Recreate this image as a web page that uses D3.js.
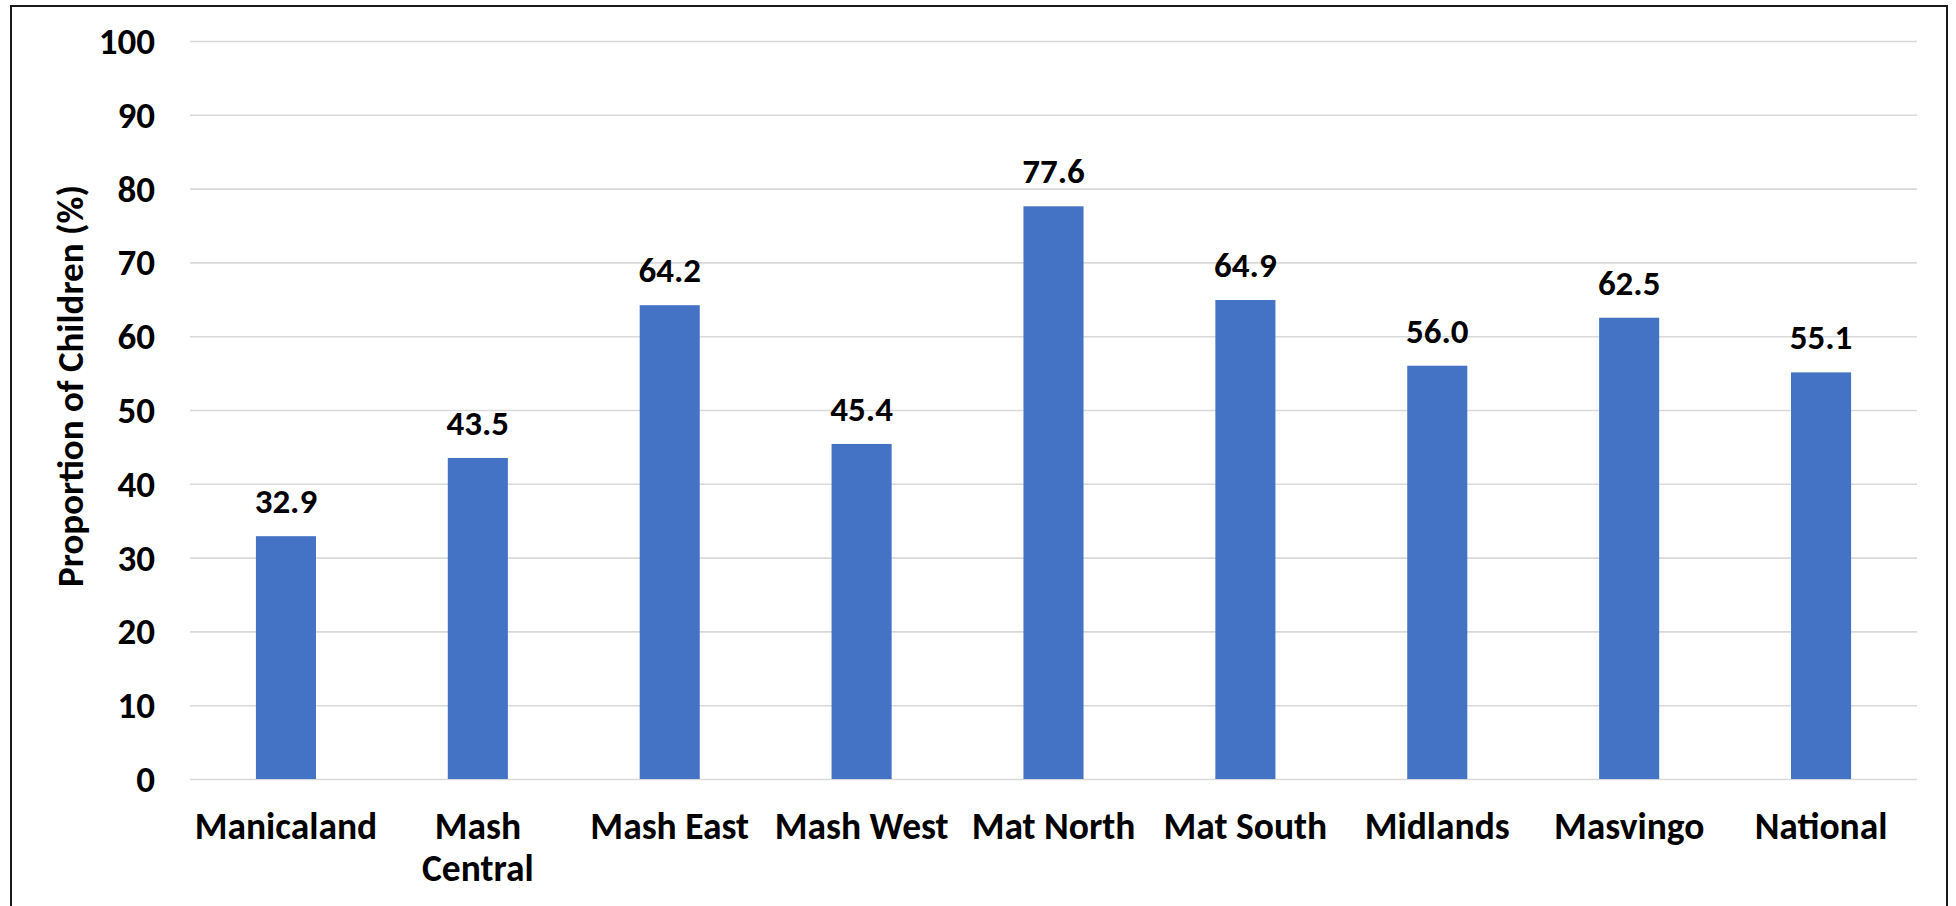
<!DOCTYPE html>
<html>
<head>
<meta charset="utf-8">
<script src="https://cdn.jsdelivr.net/npm/d3@7"></script>
<style>
  body { margin: 0; background: #fff; }
  text { font-family: Calibri, Carlito, Lato, sans-serif; font-weight: bold; fill: #000; }
</style>
</head>
<body>
<script>
// data
const regions = ["Manicaland", "Mash Central", "Mash East", "Mash West", "Mat North",
                 "Mat South", "Midlands", "Masvingo", "National"];
const proportion = [32.9, 43.5, 64.2, 45.4, 77.6, 64.9, 56.0, 62.5, 55.1];
const yTicks = [0, 10, 20, 30, 40, 50, 60, 70, 80, 90, 100];
const yTitle = "Proportion of Children (%)";

const W = 1956, H = 906;
const plot = { left: 190, right: 1917, top: 41, bottom: 779 };

var svg = d3.select("body")
    .append("svg")
    .attr("width", W)
    .attr("height", H);

// outer frame (bottom edge falls off the picture)
svg.append("rect")
    .attr("x", 11).attr("y", 6)
    .attr("width", 1936).attr("height", 940)
    .attr("fill", "none")
    .attr("stroke", "#1a1a1a")
    .attr("stroke-width", 2);

var x = d3.scaleBand()
    .domain(regions)
    .range([plot.left, plot.right])
    .paddingInner(0.687)
    .paddingOuter(0.3435);

var y = d3.scaleLinear()
    .domain([0, 100])
    .range([plot.bottom, plot.top]);

// gridlines + y labels
var yAxis = svg.append("g")
    .attr("transform", "translate(" + plot.left + ",0)")
    .call(d3.axisLeft(y)
        .tickValues(yTicks)
        .tickSize(-(plot.right - plot.left))
        .tickPadding(35));

yAxis.select(".domain").remove();
yAxis.selectAll(".tick line")
    .attr("stroke", "#d9d9d9")
    .attr("stroke-width", 1.6);
yAxis.selectAll(".tick text")
    .style("font-size", "37px")
    .attr("dy", "0.34em");

// bars
svg.append("g")
    .selectAll("rect")
    .data(proportion)
    .enter()
    .append("rect")
    .attr("x", (d, i) => x(regions[i]))
    .attr("y", d => y(d))
    .attr("width", x.bandwidth())
    .attr("height", d => y(0) - y(d))
    .attr("fill", "#4472C4");

// value labels
svg.append("g")
    .selectAll("text")
    .data(proportion)
    .enter()
    .append("text")
    .attr("x", (d, i) => x(regions[i]) + x.bandwidth() / 2)
    .attr("y", d => y(d) - 23)
    .attr("text-anchor", "middle")
    .style("font-size", "35px")
    .text(d => d.toFixed(1));

// category labels, wrapped when wider than a band
var xLab = svg.append("g")
    .selectAll("text")
    .data(regions)
    .enter()
    .append("text")
    .attr("x", d => x(d) + x.bandwidth() / 2)
    .attr("y", 839)
    .attr("text-anchor", "middle")
    .style("font-size", "37.5px")
    .text(d => d);

xLab.each(function (d) {
    var t = d3.select(this);
    if (this.getComputedTextLength() > x.step() * 0.98) {
        var cx = t.attr("x");
        t.text(null);
        d.split(" ").forEach((w, k) => {
            t.append("tspan").attr("x", cx).attr("dy", k ? 42 : 0).text(w);
        });
    }
});

// y title
svg.append("text")
    .attr("transform", "translate(83,386) rotate(-90)")
    .attr("text-anchor", "middle")
    .style("font-size", "37px")
    .text(yTitle);
</script>
</body>
</html>
